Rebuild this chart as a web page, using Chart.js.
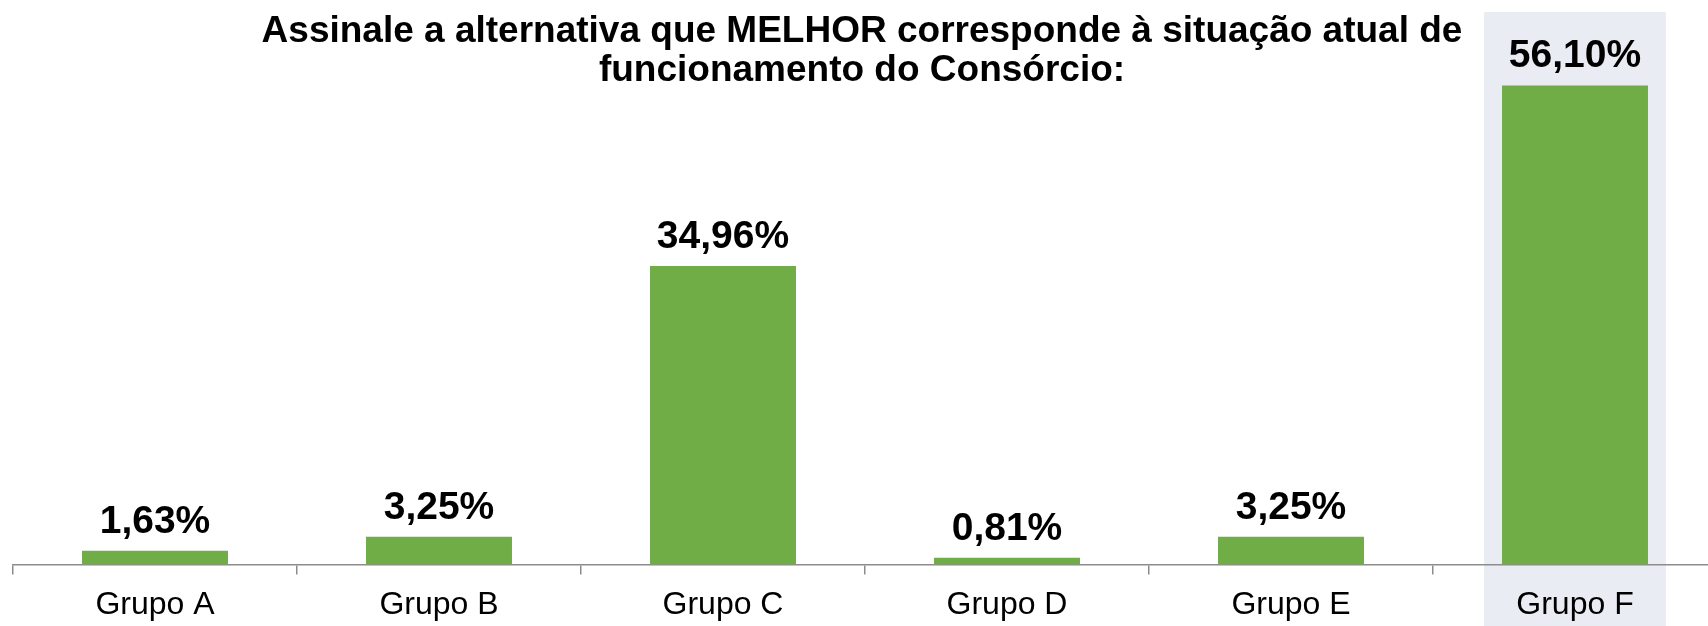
<!DOCTYPE html>
<html>
<head>
<meta charset="utf-8">
<script src="https://cdn.jsdelivr.net/npm/chart.js@4"></script>
<style>
  html, body { margin: 0; padding: 0; background: #fff; overflow: hidden; }
  canvas { display: block; }
</style>
</head>
<body>
<canvas id="chart" width="1717" height="640"></canvas>
<script>
// Data
const categories = ["Grupo A", "Grupo B", "Grupo C", "Grupo D", "Grupo E", "Grupo F"];
const values = [1.63, 3.25, 34.96, 0.81, 3.25, 56.10];
const titleLines = ["Assinale a alternativa que MELHOR corresponde à situação atual de", "funcionamento do Consórcio:"];
const highlighted = "Grupo F";

const FONT = "'Liberation Sans', Arial, sans-serif";

// draws the title over the chart area
const titlePlugin = {
  id: "titleText",
  afterDraw(chart) {
    const ctx = chart.ctx;
    ctx.save();
    ctx.font = "bold 37px " + FONT;
    ctx.fillStyle = "#000";
    ctx.textAlign = "center";
    ctx.textBaseline = "alphabetic";
    ctx.fillText(titleLines[0], 862, 42);
    ctx.fillText(titleLines[1], 862, 81);
    ctx.restore();
  },
};

// grey band behind the highlighted group
const bandPlugin = {
  id: "band",
  beforeDraw(chart) {
    const x = chart.scales.x;
    const cx = x.getPixelForValue(categories.indexOf(highlighted));
    const w = (x.width / categories.length) * 0.64;
    const ctx = chart.ctx;
    ctx.save();
    ctx.fillStyle = "#e9ecf2";
    ctx.fillRect(cx - w / 2, 12, w, chart.height - 12);
    ctx.restore();
  },
};

// value labels above bars
const labelPlugin = {
  id: "valueLabels",
  afterDatasetsDraw(chart) {
    const ctx = chart.ctx;
    ctx.save();
    ctx.font = "bold 39px " + FONT;
    ctx.fillStyle = "#000";
    ctx.textAlign = "center";
    ctx.textBaseline = "alphabetic";
    chart.getDatasetMeta(0).data.forEach((bar, i) => {
      const txt = values[i].toFixed(2).replace(".", ",") + "%";
      ctx.fillText(txt, bar.x, bar.y - 18);
    });
    ctx.restore();
  },
};

new Chart(document.getElementById("chart"), {
  type: "bar",
  data: {
    labels: categories,
    datasets: [
      {
        data: values,
        backgroundColor: "#70ad47",
        borderWidth: 0,
        barPercentage: 0.514,
        categoryPercentage: 1,
      },
    ],
  },
  options: {
    responsive: false,
    animation: false,
    layout: { padding: { top: 12, left: 13, right: 0, bottom: 5 } },
    plugins: {
      legend: { display: false },
      tooltip: { enabled: false },
    },
    scales: {
      y: { display: false, min: 0, max: 64.7 },
      x: {
        grid: {
          offset: true,
          drawOnChartArea: false,
          tickLength: 10,
          color: "#8c8c8c",
          lineWidth: 1.5,
        },
        border: { color: "#8c8c8c", width: 1.5 },
        ticks: {
          color: "#000",
          padding: 11,
          font: { family: FONT, size: 32 },
        },
      },
    },
  },
  plugins: [bandPlugin, labelPlugin, titlePlugin],
});
</script>
</body>
</html>
